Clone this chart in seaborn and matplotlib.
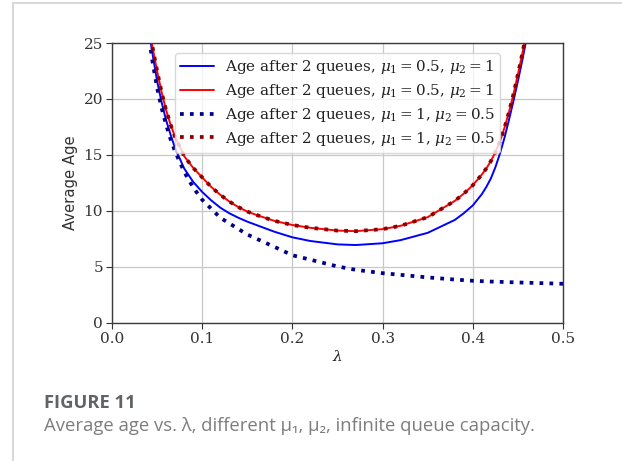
import matplotlib
matplotlib.use("Agg")
import matplotlib.pyplot as plt
from matplotlib.patches import Rectangle
import seaborn as sns

# ---- data ----
lam_a = [0.043, 0.045, 0.05, 0.055, 0.06, 0.065, 0.07, 0.08, 0.09, 0.10,
         0.11, 0.12, 0.13, 0.14, 0.15, 0.16, 0.18, 0.20, 0.22, 0.25, 0.27,
         0.30, 0.32, 0.35, 0.38, 0.39, 0.40, 0.41, 0.415, 0.42, 0.425, 0.43,
         0.435, 0.44, 0.445, 0.45, 0.455, 0.46]
age_blue = [25.0, 24.0, 21.6, 19.7, 18.1, 16.8, 15.6, 13.8, 12.6, 11.7,
            10.95, 10.3, 9.8, 9.4, 9.05, 8.75, 8.15, 7.65, 7.32, 7.02, 6.96,
            7.12, 7.4, 8.05, 9.2, 9.8, 10.5, 11.5, 12.15, 12.9, 13.9, 15.1,
            16.5, 18.1, 19.8, 21.6, 23.5, 25.6]
age_red = [25.5, 24.6, 22.5, 20.6, 19.0, 17.7, 16.6, 14.9, 13.85, 13.0,
           12.15, 11.45, 10.85, 10.35, 9.95, 9.65, 9.12, 8.75, 8.5, 8.25, 8.2,
           8.38, 8.68, 9.45, 10.9, 11.55, 12.3, 13.25, 13.8, 14.45, 15.25,
           16.2, 17.4, 18.8, 20.4, 22.2, 24.1, 26.2]
lam_b = [0.043, 0.045, 0.05, 0.055, 0.06, 0.065, 0.07, 0.08, 0.09, 0.10,
         0.12, 0.15, 0.18, 0.20, 0.22, 0.25, 0.27, 0.30, 0.32, 0.35, 0.38,
         0.40, 0.42, 0.45, 0.48, 0.50]
age_navy = [24.4, 23.3, 21.0, 19.2, 17.7, 16.4, 15.3, 13.5, 12.1, 11.0,
            9.4, 7.9, 6.8, 6.05, 5.65, 5.05, 4.75, 4.45, 4.3, 4.07, 3.88,
            3.77, 3.7, 3.62, 3.55, 3.5]
age_darkred = age_red

labels = [r'Age after 2 queues, $\mu_1 = 0.5$, $\mu_2 = 1$',
          r'Age after 2 queues, $\mu_1 = 0.5$, $\mu_2 = 1$',
          r'Age after 2 queues, $\mu_1 = 1$, $\mu_2 = 0.5$',
          r'Age after 2 queues, $\mu_1 = 1$, $\mu_2 = 0.5$']
xticks = [0.0, 0.1, 0.2, 0.3, 0.4, 0.5]
yticks = [0, 5, 10, 15, 20, 25]

sns.set_theme(style="whitegrid")
plt.rcParams['font.family'] = ['DejaVu Serif']
plt.rcParams['mathtext.fontset'] = 'dejavuserif'

W, H = 622, 461
fig = plt.figure(figsize=(W / 100, H / 100), dpi=100)
fig.patch.set_facecolor('white')

# outer light border of the page
fig.patches.append(Rectangle((12.5 / W, -0.1), 1.2, 1.1 - 3 / H,
                             transform=fig.transFigure, fill=False,
                             edgecolor='#d4d4d4', linewidth=1.3))

ax = fig.add_axes([112 / W, 1 - 323 / H, (563 - 112) / W, (323 - 43) / H])
ax.set_facecolor('white')

sns.lineplot(x=lam_a, y=age_blue, ax=ax, color='blue', linewidth=1.4,
             label=labels[0], sort=False)
sns.lineplot(x=lam_a, y=age_red, ax=ax, color='red', linewidth=1.4,
             label=labels[1], sort=False)
sns.lineplot(x=lam_b, y=age_navy, ax=ax, color='darkblue', linewidth=2.7,
             linestyle=':', label=labels[2], sort=False)
sns.lineplot(x=lam_a, y=age_darkred, ax=ax, color='darkred', linewidth=2.7,
             linestyle=':', label=labels[3], sort=False)

ax.set_xlim(0, 0.5)
ax.set_ylim(0, 25)
ax.set_xticks(xticks)
ax.set_yticks(yticks)
ax.set_xticklabels([f'{v:.1f}' for v in xticks])
ax.set_yticklabels([str(v) for v in yticks])
ax.grid(True, color='#c8c8c8', linewidth=0.9)
ax.tick_params(axis='both', which='major', labelsize=11, colors='#333333',
               length=4, width=0.8, direction='out', left=True, bottom=True,
               top=False, right=False, pad=2.5)
for s in ax.spines.values():
    s.set_color('#3a3a3a')
    s.set_linewidth(1.0)

ax.set_xlabel(r'$\lambda$', fontsize=11, color='#222222', labelpad=2)
ax.set_ylabel('Average Age', fontsize=10.7, color='#333333',
              family=['DejaVu Sans'], labelpad=4)

leg = ax.legend(loc='upper center', bbox_to_anchor=(0.5, 0.975), fontsize=10.9,
                handlelength=2.2, handletextpad=0.75, frameon=True,
                framealpha=0.8, edgecolor='#d0d0d0', borderpad=0.35,
                labelspacing=0.38, borderaxespad=0.2)
for t in leg.get_texts():
    t.set_color('#222222')

fig.text(44 / W, 1 - 403 / H, 'FIGURE 11', fontsize=13.2, fontweight='bold',
         color='#5f6468', family=['Open Sans', 'DejaVu Sans'], va='center')
fig.text(44 / W, 1 - 426 / H,
         'Average age vs. λ, different μ₁, μ₂, infinite queue capacity.',
         fontsize=13.3, color='#7d7d7d', family=['Open Sans', 'DejaVu Sans'],
         va='center')

fig.savefig('out.png', dpi=100, facecolor='white')
